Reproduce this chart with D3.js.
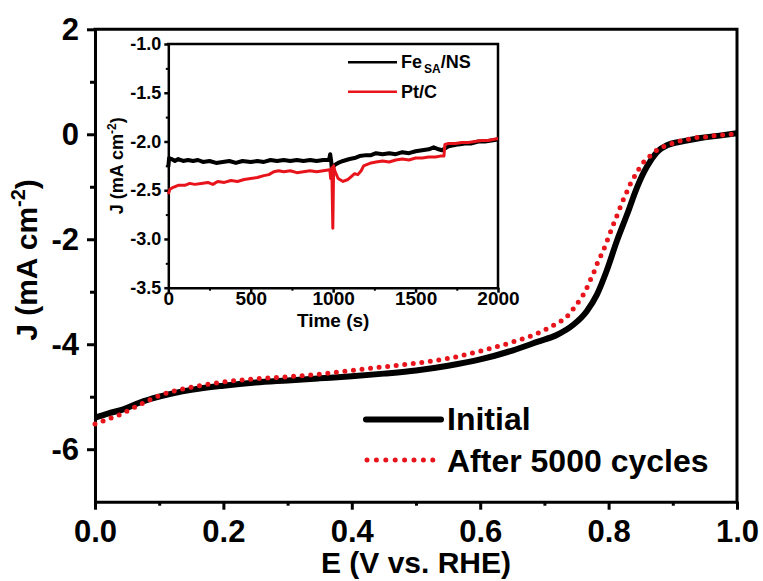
<!DOCTYPE html>
<html>
<head>
<meta charset="utf-8">
<script src="https://cdn.jsdelivr.net/npm/d3@7/dist/d3.min.js"></script>
<style>
  html, body { margin: 0; padding: 0; background: #fff; }
  svg { display: block; }
</style>
</head>
<body>
<svg id="chart" width="763" height="581"></svg>
<script>
// ---------- LSV polarisation curves (main panel) ----------
const E_INITIAL = [0, 0.02, 0.044, 0.07, 0.1, 0.15, 0.2, 0.25, 0.3, 0.35, 0.4, 0.45, 0.5, 0.55, 0.6, 0.65, 0.69, 0.72,
  0.745, 0.766, 0.782, 0.797, 0.813, 0.829, 0.844, 0.855, 0.865, 0.878, 0.891, 0.917, 0.943, 0.97, 1.0];
const J_INITIAL = [-5.40, -5.32, -5.24, -5.11, -5.00, -4.87, -4.79, -4.73, -4.69, -4.65, -4.61, -4.56, -4.50, -4.41, -4.29, -4.12, -3.95, -3.82,
  -3.63, -3.37, -3.05, -2.60, -2.03, -1.52, -1.02, -0.72, -0.51, -0.31, -0.21, -0.13, -0.07, -0.03, 0.02];

const E_CYCLED = [0, 0.02, 0.041, 0.065, 0.1, 0.15, 0.2, 0.25, 0.3, 0.35, 0.4, 0.45, 0.5, 0.55, 0.6, 0.65, 0.686, 0.714,
  0.736, 0.746, 0.756, 0.764, 0.771, 0.778, 0.784, 0.791, 0.797, 0.803, 0.809, 0.815, 0.821, 0.828, 0.835, 0.843,
  0.852, 0.864, 0.878, 0.893, 0.907, 0.922, 0.938, 0.953, 0.969, 0.985, 1.0];
const J_CYCLED = [-5.52, -5.43, -5.33, -5.18, -4.98, -4.82, -4.72, -4.66, -4.62, -4.57, -4.50, -4.43, -4.36, -4.27, -4.13, -3.96, -3.81, -3.64,
  -3.46, -3.31, -3.14, -2.98, -2.79, -2.60, -2.41, -2.24, -2.05, -1.86, -1.67, -1.49, -1.30, -1.11, -0.92, -0.75,
  -0.57, -0.42, -0.28, -0.20, -0.14, -0.10, -0.06, -0.05, -0.02, -0.01, 0.02];

const X_TICKS = [0, 0.2, 0.4, 0.6, 0.8, 1.0];
const X_MINOR = [0.1, 0.3, 0.5, 0.7, 0.9];
const Y_TICKS = [2, 0, -2, -4, -6];
const Y_MINOR = [1, -1, -3, -5];
const LEGEND_MAIN = ["Initial", "After 5000 cycles"];

// ---------- chronoamperometry (inset) ----------
const T_FE = [0, 5, 20, 40, 60, 90, 120, 150, 180, 210, 250, 290, 330, 370, 410, 450, 500, 540, 580, 620, 660, 700, 740, 780,
  820, 860, 900, 940, 975, 982, 988, 995, 1000, 1010, 1030, 1060, 1100, 1130, 1160, 1200, 1230, 1260, 1300, 1340, 1380,
  1420, 1460, 1500, 1540, 1580, 1610, 1640, 1660, 1680, 1700, 1730, 1760, 1800, 1840, 1880, 1920, 1960, 2000];
const J_FE = [-2.26, -2.17, -2.18, -2.20, -2.18, -2.20, -2.19, -2.20, -2.19, -2.21, -2.20, -2.22, -2.21, -2.20, -2.22, -2.20, -2.21, -2.20, -2.21, -2.19, -2.20, -2.19, -2.20, -2.19,
  -2.20, -2.19, -2.20, -2.19, -2.19, -2.13, -2.20, -2.35, -2.26, -2.24, -2.22, -2.20, -2.18, -2.17, -2.15, -2.14, -2.14, -2.12, -2.13, -2.12, -2.13,
  -2.11, -2.12, -2.10, -2.09, -2.08, -2.06, -2.08, -2.09, -2.07, -2.05, -2.04, -2.03, -2.02, -2.02, -2.00, -2.00, -1.99, -1.98];

const T_PT = [0, 10, 30, 60, 100, 130, 160, 200, 240, 270, 300, 340, 380, 420, 460, 500, 540, 580, 610, 640, 670, 700, 740,
  780, 820, 860, 900, 940, 980, 985, 992, 998, 1003, 1010, 1030, 1060, 1090, 1110, 1130, 1150, 1170, 1185, 1200, 1230,
  1260, 1300, 1340, 1380, 1420, 1460, 1500, 1540, 1580, 1620, 1650, 1672, 1678, 1700, 1740, 1780, 1820, 1860, 1900,
  1940, 1970, 2000];
const J_PT = [-2.54, -2.49, -2.47, -2.45, -2.45, -2.43, -2.44, -2.43, -2.42, -2.44, -2.41, -2.42, -2.40, -2.41, -2.39, -2.38, -2.37, -2.35, -2.34, -2.31, -2.30, -2.31, -2.30,
  -2.32, -2.31, -2.30, -2.31, -2.30, -2.29, -2.38, -2.27, -2.89, -2.25, -2.30, -2.38, -2.41, -2.39, -2.36, -2.33, -2.34, -2.30, -2.25, -2.24, -2.22,
  -2.21, -2.20, -2.21, -2.19, -2.18, -2.19, -2.17, -2.17, -2.16, -2.16, -2.15, -2.15, -2.03, -2.02, -2.02, -2.01, -2.01, -2.00, -1.99,
  -1.99, -1.98, -1.97];

const IX_TICKS = [0, 500, 1000, 1500, 2000];
const IX_MINOR = [250, 750, 1250, 1750];
const IY_TICKS = [-1.0, -1.5, -2.0, -2.5, -3.0, -3.5];
const IY_MINOR = [-1.25, -1.75, -2.25, -2.75, -3.25];

const FONT = "'Liberation Sans', Arial, Helvetica, sans-serif";
const RED = "#e8141b";

// plain hyphen-minus in tick labels
const locale = d3.formatLocale({ decimal: ".", thousands: ",", grouping: [3], currency: ["", ""], minus: "-" });
const f1 = locale.format(".1f");
const f0 = locale.format("d");

const svg = d3.select("#chart");

// ---------- main panel ----------
const x = d3.scaleLinear().domain([0, 1]).range([95, 737]);
const y = d3.scaleLinear().domain([-7, 2]).range([501.7, 29.3]);

function styleAxis(g, size, width) {
  g.attr("font-family", FONT).attr("font-weight", "bold").attr("font-size", size);
  g.selectAll("path.domain").attr("stroke", "#000").attr("stroke-width", width);
  g.selectAll(".tick line").attr("stroke", "#000").attr("stroke-width", width);
  g.selectAll("text").attr("fill", "#000");
}

const gx = svg.append("g").attr("transform", `translate(0,${y(-7)})`)
  .call(d3.axisBottom(x).tickValues(X_TICKS).tickSize(8).tickSizeOuter(0).tickPadding(10).tickFormat(f1));
styleAxis(gx, 31, 3);
const gxm = svg.append("g").attr("transform", `translate(0,${y(-7)})`)
  .call(d3.axisBottom(x).tickValues(X_MINOR).tickSize(4).tickFormat(""));
gxm.select(".domain").remove();
styleAxis(gxm, 31, 3);

const gy = svg.append("g").attr("transform", `translate(${x(0)},0)`)
  .call(d3.axisLeft(y).tickValues(Y_TICKS).tickSize(8).tickSizeOuter(0).tickPadding(8).tickFormat(f0));
styleAxis(gy, 31, 3);
const gym = svg.append("g").attr("transform", `translate(${x(0)},0)`)
  .call(d3.axisLeft(y).tickValues(Y_MINOR).tickSize(5).tickFormat(""));
gym.select(".domain").remove();
styleAxis(gym, 31, 3);

// top and right frame lines
svg.append("path")
  .attr("d", `M${x(0)},${y(2)}H${x(1)}V${y(-7)}`)
  .attr("fill", "none").attr("stroke", "#000").attr("stroke-width", 3).attr("stroke-linecap", "square");

// axis titles
svg.append("text").attr("x", (x(0) + x(1)) / 2).attr("y", 573)
  .attr("text-anchor", "middle").attr("font-family", FONT).attr("font-weight", "bold").attr("font-size", 30)
  .text("E (V vs. RHE)");

const yt = svg.append("text").attr("transform", "translate(37,260) rotate(-90)")
  .attr("text-anchor", "middle").attr("font-family", FONT).attr("font-weight", "bold").attr("font-size", 30);
yt.append("tspan").text("J (mA cm");
yt.append("tspan").attr("font-size", 20).attr("dy", -12).text("-2");
yt.append("tspan").attr("dy", 12).text(")");

// curves
const line = d3.line().x(d => x(d[0])).y(d => y(d[1])).curve(d3.curveMonotoneX);
const initial = E_INITIAL.map((e, i) => [e, J_INITIAL[i]]);
const cycled = E_CYCLED.map((e, i) => [e, J_CYCLED[i]]);

svg.append("path").datum(initial).attr("d", line)
  .attr("fill", "none").attr("stroke", "#000").attr("stroke-width", 6).attr("stroke-linejoin", "round");
svg.append("path").datum(cycled).attr("d", line)
  .attr("fill", "none").attr("stroke", RED).attr("stroke-width", 5)
  .attr("stroke-linecap", "round").attr("stroke-dasharray", "0 8.6");

// legend
const lg = svg.append("g").attr("font-family", FONT).attr("font-weight", "bold").attr("font-size", 32);
lg.append("line").attr("x1", 366).attr("x2", 441).attr("y1", 419.5).attr("y2", 419.5)
  .attr("stroke", "#000").attr("stroke-width", 6).attr("stroke-linecap", "round");
lg.append("text").attr("x", 447).attr("y", 430).text(LEGEND_MAIN[0]);
lg.append("line").attr("x1", 367).attr("x2", 433).attr("y1", 460).attr("y2", 460)
  .attr("stroke", RED).attr("stroke-width", 5).attr("stroke-linecap", "round").attr("stroke-dasharray", "0 9.4");
lg.append("text").attr("x", 447).attr("y", 472).text(LEGEND_MAIN[1]);

// ---------- inset ----------
const ix = d3.scaleLinear().domain([0, 2000]).range([168.3, 498]);
const iy = d3.scaleLinear().domain([-3.5, -1.0]).range([287.7, 44]);

svg.append("rect").attr("x", ix(0)).attr("y", iy(-1)).attr("width", ix(2000) - ix(0)).attr("height", iy(-3.5) - iy(-1))
  .attr("fill", "#fff");

const igx = svg.append("g").attr("transform", `translate(0,${iy(-3.5)})`)
  .call(d3.axisBottom(ix).tickValues(IX_TICKS).tickSize(5).tickSizeOuter(0).tickPadding(-1).tickFormat(f0));
styleAxis(igx, 19, 2.5);
const igxm = svg.append("g").attr("transform", `translate(0,${iy(-3.5)})`)
  .call(d3.axisBottom(ix).tickValues(IX_MINOR).tickSize(3).tickFormat(""));
igxm.select(".domain").remove();
styleAxis(igxm, 19, 2);

const igy = svg.append("g").attr("transform", `translate(${ix(0)},0)`)
  .call(d3.axisLeft(iy).tickValues(IY_TICKS).tickSize(4).tickSizeOuter(0).tickPadding(3).tickFormat(f1));
styleAxis(igy, 18, 2.5);
const igym = svg.append("g").attr("transform", `translate(${ix(0)},0)`)
  .call(d3.axisLeft(iy).tickValues(IY_MINOR).tickSize(2.5).tickFormat(""));
igym.select(".domain").remove();
styleAxis(igym, 18, 2);

svg.append("path")
  .attr("d", `M${ix(0)},${iy(-1)}H${ix(2000)}V${iy(-3.5)}`)
  .attr("fill", "none").attr("stroke", "#000").attr("stroke-width", 2.5).attr("stroke-linecap", "square");

svg.append("text").attr("x", ix(1000)).attr("y", 327)
  .attr("text-anchor", "middle").attr("font-family", FONT).attr("font-weight", "bold").attr("font-size", 19)
  .text("Time (s)");

const iyt = svg.append("text").attr("transform", `translate(123,${(iy(-1) + iy(-3.5)) / 2}) rotate(-90)`)
  .attr("text-anchor", "middle").attr("font-family", FONT).attr("font-weight", "bold").attr("font-size", 18);
iyt.append("tspan").text("J (mA cm");
iyt.append("tspan").attr("font-size", 12).attr("dy", -7).text("-2");
iyt.append("tspan").attr("dy", 7).text(")");

const iline = d3.line().x(d => ix(d[0])).y(d => iy(d[1]));
svg.append("path").datum(T_FE.map((t, i) => [t, J_FE[i]])).attr("d", iline)
  .attr("fill", "none").attr("stroke", "#000").attr("stroke-width", 4).attr("stroke-linejoin", "round");
svg.append("path").datum(T_PT.map((t, i) => [t, J_PT[i]])).attr("d", iline)
  .attr("fill", "none").attr("stroke", RED).attr("stroke-width", 3).attr("stroke-linejoin", "round");

const ilg = svg.append("g").attr("font-family", FONT).attr("font-weight", "bold").attr("font-size", 18);
ilg.append("line").attr("x1", 348).attr("x2", 397).attr("y1", 62.3).attr("y2", 62.3)
  .attr("stroke", "#000").attr("stroke-width", 2.5);
const feLabel = ilg.append("text").attr("x", 401).attr("y", 67.5);
feLabel.append("tspan").text("Fe");
feLabel.append("tspan").attr("font-size", 12).attr("dy", 5).attr("dx", 2).text("SA");
feLabel.append("tspan").attr("dy", -5).text("/NS");
ilg.append("line").attr("x1", 348).attr("x2", 397).attr("y1", 91.7).attr("y2", 91.7)
  .attr("stroke", RED).attr("stroke-width", 2.5);
ilg.append("text").attr("x", 401).attr("y", 97.5).text("Pt/C");
</script>
</body>
</html>
